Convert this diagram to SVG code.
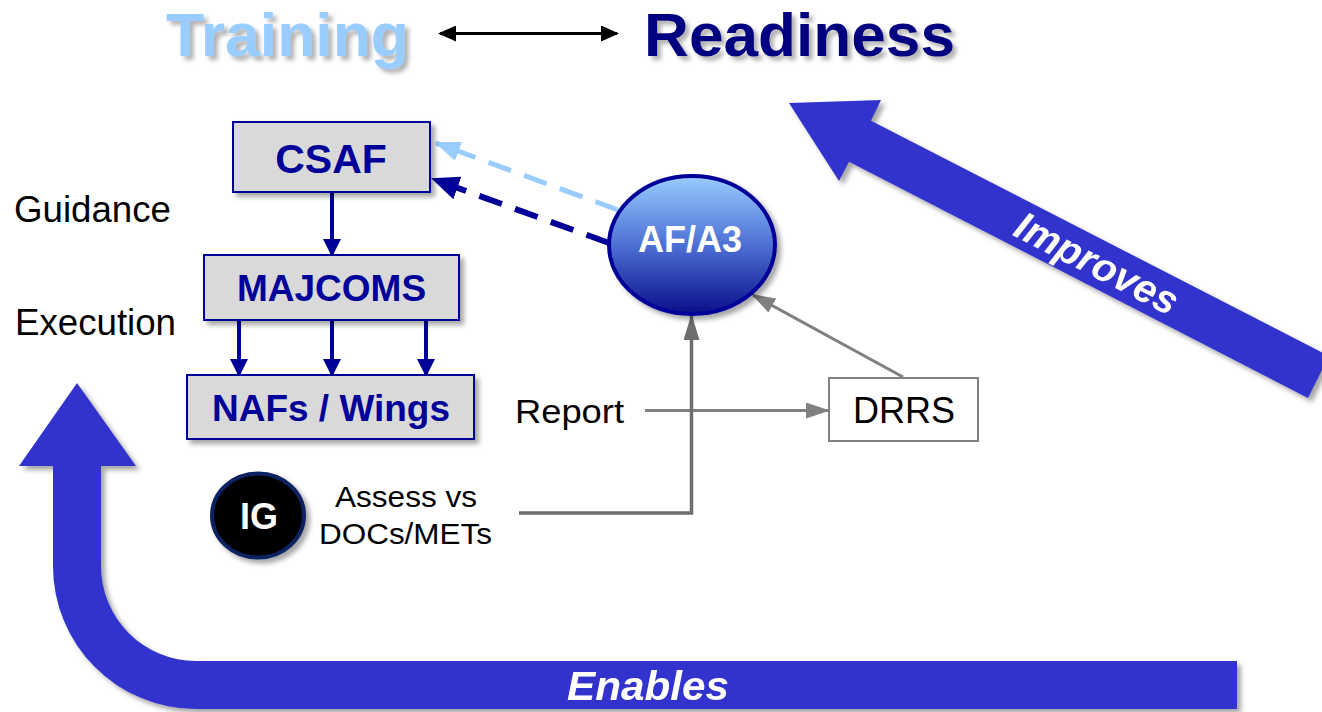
<svg xmlns="http://www.w3.org/2000/svg" width="1322" height="712" viewBox="0 0 1322 712">
<defs>
<style>
.reg{font-family:"Liberation Sans",Arial,sans-serif;fill:#000}
.bold{font-family:"Liberation Sans",Arial,sans-serif;font-weight:bold}
.navytxt{fill:#000099}
.box{fill:#D9D9D9;stroke:#000099;stroke-width:2}
.big{fill:#3333CC}
.nav{stroke:#000099;stroke-width:4;fill:none}
.grey{stroke:#808080;stroke-width:3;fill:none}
</style>
<filter id="sh" x="-20%" y="-20%" width="150%" height="150%">
<feDropShadow dx="4" dy="4" stdDeviation="2.5" flood-color="#000" flood-opacity="0.35"/>
</filter>
<filter id="tsh" x="-10%" y="-20%" width="130%" height="160%">
<feDropShadow dx="4" dy="4" stdDeviation="2" flood-color="#555" flood-opacity="0.45"/>
</filter>
<linearGradient id="af" x1="0" y1="0" x2="0" y2="1">
<stop offset="0" stop-color="#99CCFF"/>
<stop offset="0.5" stop-color="#4D70D4"/>
<stop offset="1" stop-color="#0A0F8A"/>
</linearGradient>
<marker id="mNav" markerWidth="18" markerHeight="18" refX="16" refY="9" orient="auto" markerUnits="userSpaceOnUse">
<path d="M0,0 L18,9 L0,18 Z" fill="#000099"/>
</marker>
<marker id="mNavD" markerWidth="28" markerHeight="24" refX="26" refY="12" orient="auto" markerUnits="userSpaceOnUse">
<path d="M0,0 L28,12 L0,24 Z" fill="#000099"/>
</marker>
<marker id="mLb" markerWidth="26" markerHeight="20" refX="24" refY="10" orient="auto" markerUnits="userSpaceOnUse">
<path d="M0,0 L26,10 L0,20 Z" fill="#99CCFF"/>
</marker>
<marker id="mGrey" markerWidth="24" markerHeight="16" refX="22" refY="8" orient="auto" markerUnits="userSpaceOnUse">
<path d="M0,0 L24,8 L0,16 Z" fill="#808080"/>
</marker>
<marker id="mGreyD" markerWidth="26" markerHeight="16" refX="24" refY="8" orient="auto" markerUnits="userSpaceOnUse">
<path d="M0,0 L26,8 L0,16 Z" fill="#6E6E6E"/>
</marker>
<marker id="mBlk" markerWidth="18" markerHeight="16" refX="16" refY="8" orient="auto-start-reverse" markerUnits="userSpaceOnUse">
<path d="M0,0 L18,8 L0,16 Z" fill="#000"/>
</marker>
</defs>
<rect width="1322" height="712" fill="#fff"/>

<!-- Big arrows -->
<g id="enables" filter="url(#sh)">
<path class="big" d="M77,383 L136,466 L101,466 L101,566 A95,95 0 0 0 196,661 L1237,661 L1237,709 L196,709 A143,143 0 0 1 53,566 L53,466 L19,466 Z"/>
<text class="bold" x="567" y="700" font-size="41" font-style="italic" fill="#fff" textLength="162" lengthAdjust="spacingAndGlyphs">Enables</text>
</g>
<g id="improves" filter="url(#sh)">
<path class="big" d="M789,103 L881,100 L871,120.7 L1329,356 L1308,398 L849,161.7 L839,181 Z"/>
<text class="bold" transform="translate(1097,263) rotate(27.2)" x="0" y="14" text-anchor="middle" font-size="40" font-style="italic" fill="#fff">Improves</text>
</g>

<!-- Title -->
<g id="training" filter="url(#tsh)">
<text class="bold" x="166" y="56" font-size="62" fill="#99CCFF" textLength="243" lengthAdjust="spacingAndGlyphs">Training</text>
</g>
<g id="readiness" filter="url(#tsh)">
<text class="bold" x="644" y="56" font-size="61" fill="#000080" textLength="311" lengthAdjust="spacingAndGlyphs">Readiness</text>
</g>

<!-- Side labels -->
<g id="guidance"><text class="reg" x="14" y="222" font-size="36" textLength="157" lengthAdjust="spacingAndGlyphs">Guidance</text></g>
<g id="execution"><text class="reg" x="15" y="335" font-size="36" textLength="161" lengthAdjust="spacingAndGlyphs">Execution</text></g>

<!-- Connectors -->
<g id="connectors">
<line x1="440" y1="33.5" x2="617" y2="33.5" stroke="#000" stroke-width="3" marker-start="url(#mBlk)" marker-end="url(#mBlk)"/>
<line class="nav" x1="332" y1="193" x2="332" y2="255" marker-end="url(#mNav)"/>
<line class="nav" x1="239" y1="321" x2="239" y2="375" marker-end="url(#mNav)"/>
<line class="nav" x1="332" y1="321" x2="332" y2="375" marker-end="url(#mNav)"/>
<line class="nav" x1="426" y1="321" x2="426" y2="375" marker-end="url(#mNav)"/>
<line x1="618" y1="210" x2="436" y2="143" stroke="#99CCFF" stroke-width="5" stroke-dasharray="24 14" marker-end="url(#mLb)"/>
<line x1="609" y1="243" x2="433" y2="179" stroke="#000099" stroke-width="6" stroke-dasharray="24 14" marker-end="url(#mNavD)"/>
<line class="grey" x1="645" y1="410.5" x2="828" y2="410.5" marker-end="url(#mGrey)"/>
<line class="grey" x1="903" y1="377" x2="753" y2="295" marker-end="url(#mGrey)"/>
<polyline points="519,513 691.5,513 691.5,316" fill="none" stroke="#6E6E6E" stroke-width="3.5" marker-end="url(#mGreyD)"/>
</g>

<!-- Nodes -->
<g id="csaf">
<rect class="box" x="233" y="122" width="197" height="70" filter="url(#sh)"/>
<text class="bold navytxt" x="331" y="173" font-size="41" text-anchor="middle">CSAF</text>
</g>
<g id="majcoms">
<rect class="box" x="204" y="255" width="255" height="65" filter="url(#sh)"/>
<text class="bold navytxt" x="331.5" y="301" font-size="37" text-anchor="middle">MAJCOMS</text>
</g>
<g id="nafs">
<rect class="box" x="187" y="375" width="287" height="64" filter="url(#sh)"/>
<text class="bold navytxt" x="331" y="421" font-size="37" text-anchor="middle" textLength="238" lengthAdjust="spacingAndGlyphs">NAFs / Wings</text>
</g>
<g id="afa3">
<ellipse cx="692" cy="245" rx="83" ry="69" fill="url(#af)" stroke="#000099" stroke-width="4" filter="url(#sh)"/>
<text class="bold" x="690" y="252" font-size="36" text-anchor="middle" fill="#fff">AF/A3</text>
</g>
<g id="ig">
<ellipse cx="258" cy="515.5" rx="46" ry="42" fill="#000" stroke="#0B2260" stroke-width="4" filter="url(#sh)"/>
<text class="bold" x="259" y="529" font-size="36" text-anchor="middle" fill="#fff">IG</text>
</g>
<g id="assess">
<text class="reg" x="406" y="507" font-size="30" text-anchor="middle" textLength="142" lengthAdjust="spacingAndGlyphs">Assess vs</text>
<text class="reg" x="405.5" y="544" font-size="30" text-anchor="middle" textLength="173" lengthAdjust="spacingAndGlyphs">DOCs/METs</text>
</g>
<g id="report">
<text class="reg" x="515" y="423" font-size="34" textLength="109" lengthAdjust="spacingAndGlyphs">Report</text>
</g>
<g id="drrs">
<rect x="829" y="378" width="149" height="63" fill="#fff" stroke="#808080" stroke-width="2"/>
<text class="reg" x="904" y="423" font-size="36" text-anchor="middle">DRRS</text>
</g>
</svg>
